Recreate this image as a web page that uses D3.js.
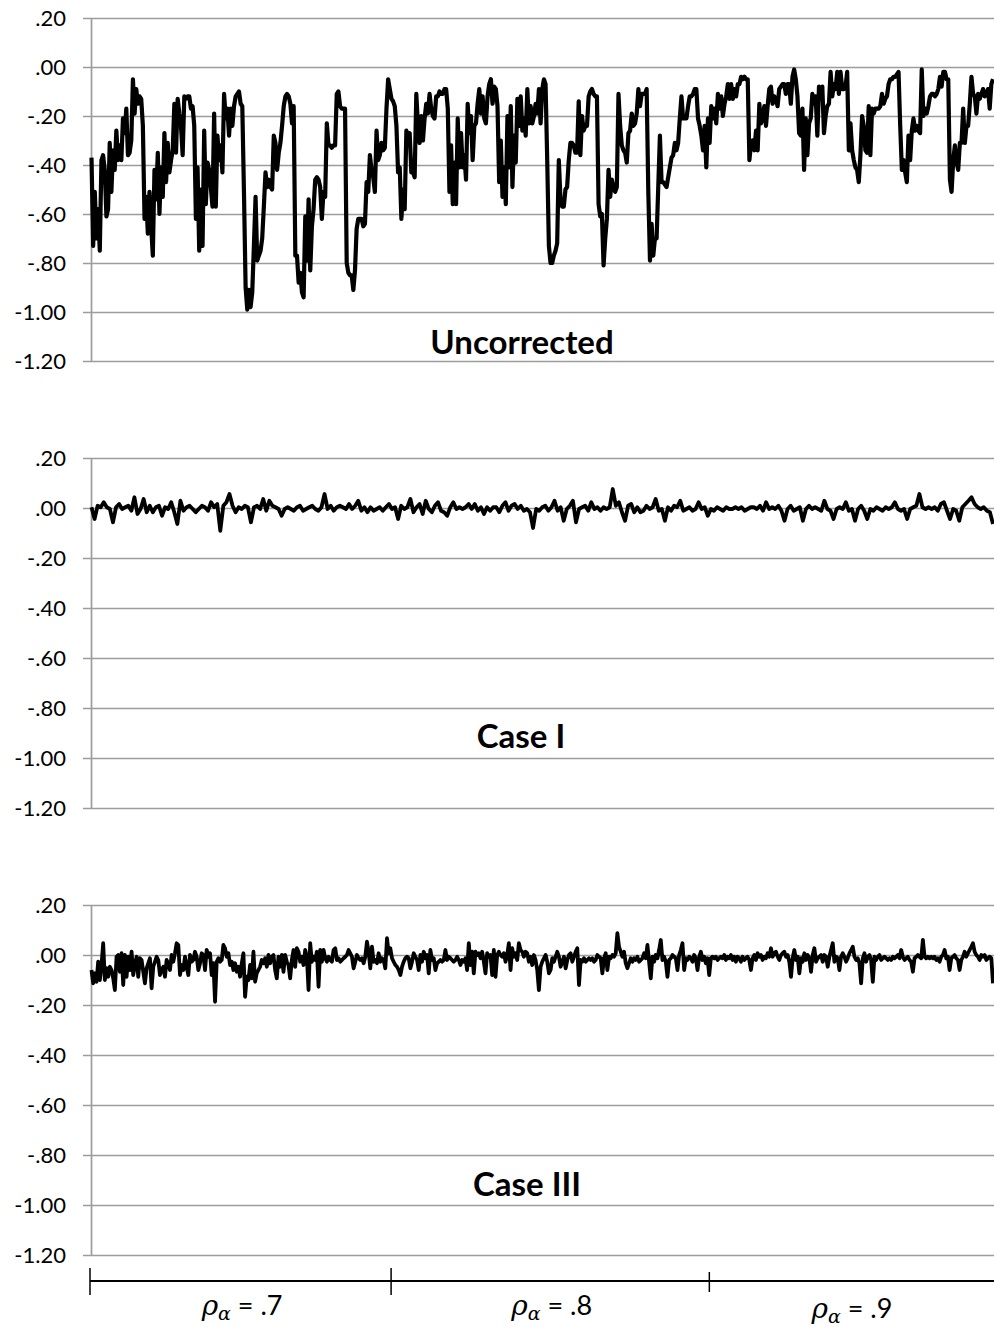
<!DOCTYPE html>
<html>
<head>
<meta charset="utf-8">
<script src="https://cdn.jsdelivr.net/npm/d3@7"></script>
<style>
    body { margin: 0; background: #fff; }
    svg { display: block; }
    .tick text { font-family: Lato, "Open Sans", sans-serif; font-size: 22px; fill: #000; }
    .panel-title { font-family: Lato, "Open Sans", sans-serif; font-size: 33px; font-weight: bold; text-anchor: middle; }
</style>
</head>
<body>
<div id="chart"></div>
<script>

var yTicks = [0.2, 0, -0.2, -0.4, -0.6, -0.8, -1.0, -1.2];

var uncorrected = [
    -0.37, -0.73, -0.51, -0.70, -0.58, -0.75, -0.38, -0.36, -0.42, -0.61,
    -0.58, -0.31, -0.51, -0.34, -0.42, -0.26, -0.38, -0.32, -0.38, -0.21,
    -0.27, -0.17, -0.36, -0.35, -0.30, -0.05, -0.19, -0.09, -0.15, -0.12,
    -0.13, -0.24, -0.62, -0.53, -0.68, -0.51, -0.65, -0.77, -0.42, -0.54,
    -0.35, -0.60, -0.41, -0.53, -0.27, -0.47, -0.31, -0.43, -0.38, -0.34,
    -0.15, -0.35, -0.13, -0.19, -0.24, -0.36, -0.12, -0.13, -0.12, -0.12,
    -0.17, -0.16, -0.24, -0.62, -0.41, -0.75, -0.50, -0.73, -0.26, -0.56,
    -0.39, -0.42, -0.49, -0.57, -0.19, -0.57, -0.28, -0.38, -0.32, -0.43,
    -0.11, -0.21, -0.17, -0.28, -0.17, -0.24, -0.16, -0.12, -0.11, -0.10,
    -0.15, -0.16, -0.51, -0.90, -0.99, -0.91, -0.98, -0.92, -0.73, -0.53,
    -0.79, -0.77, -0.75, -0.70, -0.57, -0.43, -0.49, -0.46, -0.49, -0.50,
    -0.28, -0.31, -0.42, -0.35, -0.31, -0.24, -0.16, -0.12, -0.11, -0.12,
    -0.15, -0.23, -0.16, -0.77, -0.77, -0.88, -0.84, -0.92, -0.94, -0.61,
    -0.79, -0.54, -0.83, -0.65, -0.58, -0.46,
    -0.45, -0.46, -0.49, -0.62, -0.51, -0.53, -0.23, -0.32, -0.32, -0.33,
    -0.32, -0.32, -0.11, -0.10, -0.16, -0.17, -0.17, -0.17, -0.80, -0.84,
    -0.85, -0.85, -0.91, -0.83, -0.66, -0.62, -0.62, -0.62, -0.65, -0.64,
    -0.47, -0.51, -0.36, -0.42, -0.45, -0.51, -0.26, -0.38, -0.36, -0.31,
    -0.34, -0.33, -0.17, -0.05, -0.09, -0.13, -0.14, -0.16, -0.24, -0.43,
    -0.41, -0.62, -0.50, -0.58, -0.26, -0.28, -0.27, -0.43, -0.43, -0.45,
    -0.11, -0.24, -0.31, -0.20, -0.30, -0.21, -0.15, -0.19, -0.11, -0.17,
    -0.20, -0.21, -0.12, -0.12, -0.10, -0.11, -0.11, -0.09, -0.09, -0.17,
    -0.51, -0.32, -0.56, -0.39, -0.56, -0.21, -0.41, -0.27, -0.41, -0.36,
    -0.46, -0.15, -0.27, -0.20, -0.38, -0.24, -0.23, -0.15, -0.09, -0.19,
    -0.12, -0.21, -0.23, -0.12, -0.07, -0.05, -0.15, -0.08, -0.09, -0.16,
    -0.47, -0.30, -0.53, -0.41, -0.56, -0.20, -0.41, -0.16, -0.49, -0.28,
    -0.39, -0.13, -0.24, -0.12, -0.26, -0.21, -0.28, -0.09, -0.23, -0.16,
    -0.23, -0.20, -0.15, -0.19, -0.09, -0.23,
    -0.09, -0.05, -0.07, -0.38, -0.73, -0.80, -0.80, -0.77, -0.75, -0.72,
    -0.38, -0.54, -0.57, -0.57, -0.50, -0.49, -0.38, -0.31, -0.31, -0.32,
    -0.35, -0.35, -0.14, -0.36, -0.20, -0.26, -0.24, -0.24, -0.12, -0.10,
    -0.09, -0.11, -0.12, -0.12, -0.56, -0.61, -0.60, -0.81, -0.70, -0.62,
    -0.42, -0.53, -0.46, -0.49, -0.51, -0.49, -0.11, -0.24, -0.32, -0.34,
    -0.35, -0.39, -0.27, -0.26, -0.19, -0.24, -0.23, -0.19, -0.09, -0.16,
    -0.11, -0.11, -0.11, -0.09, -0.51, -0.79, -0.64, -0.77, -0.70, -0.70,
    -0.49, -0.28, -0.47, -0.47, -0.48, -0.49, -0.45, -0.41, -0.37, -0.36,
    -0.31, -0.34, -0.31, -0.21, -0.12, -0.21, -0.21, -0.21, -0.16, -0.12,
    -0.12, -0.11, -0.09, -0.09, -0.21, -0.24, -0.28, -0.34, -0.24, -0.41,
    -0.21, -0.31, -0.16, -0.21, -0.17, -0.23, -0.11, -0.17, -0.12, -0.20,
    -0.15, -0.12, -0.07, -0.13, -0.07, -0.13, -0.09, -0.12, -0.07, -0.07,
    -0.04, -0.05, -0.04, -0.05, -0.05, -0.38, -0.31, -0.30, -0.34, -0.26,
    -0.34, -0.15, -0.23, -0.21, -0.16,
    -0.24, -0.16, -0.09, -0.08, -0.15, -0.12, -0.13, -0.16, -0.09, -0.08,
    -0.07, -0.07, -0.11, -0.07, -0.07, -0.15, -0.04, -0.01, -0.05, -0.12,
    -0.27, -0.28, -0.17, -0.42, -0.21, -0.36, -0.23, -0.21, -0.11, -0.15,
    -0.12, -0.28, -0.08, -0.09, -0.08, -0.27, -0.20, -0.16, -0.15, -0.02,
    -0.12, -0.07, -0.09, -0.02, -0.11, -0.02, -0.09, -0.09, -0.08, -0.02,
    -0.34, -0.23, -0.34, -0.38, -0.41, -0.42, -0.47, -0.36, -0.20, -0.24,
    -0.34, -0.35, -0.16, -0.36, -0.17, -0.19, -0.17, -0.17, -0.17, -0.16,
    -0.11, -0.15, -0.13, -0.12, -0.07, -0.05, -0.05, -0.04, -0.04, -0.03,
    -0.02, -0.24, -0.42, -0.38, -0.43, -0.47, -0.28, -0.38, -0.26, -0.21,
    -0.26, -0.24, -0.26, -0.27, -0.01, -0.20, -0.17, -0.19, -0.16, -0.12,
    -0.11, -0.11, -0.12, -0.11, -0.09, -0.04, -0.08, -0.02, -0.02, -0.05,
    -0.05, -0.46, -0.51, -0.38, -0.32, -0.39, -0.42, -0.31, -0.31, -0.17,
    -0.31, -0.24, -0.24, -0.15, -0.04, -0.11, -0.12, -0.19, -0.11, -0.13,
    -0.11, -0.09, -0.12, -0.11, -0.09, -0.17, -0.07, -0.05
];

var caseI = [
    0.003, -0.044, 0.009, 0.003, 0.023, 0.003, -0.004, -0.057, 0.003, 0.016,
    -0.004, 0.003, 0.009, -0.011, 0.043, -0.024, -0.004, 0.036, -0.017, 0.009,
    -0.017, 0.003, 0.009, -0.031, 0.003, -0.004, 0.023, -0.017, -0.064, 0.029,
    -0.011, 0.003, 0.009, -0.004, -0.017, -0.004, 0.009, 0.003, -0.011, 0.023,
    0.003, 0.016, -0.091, 0.009, 0.023, 0.056, 0.009, -0.017, 0.003, -0.004,
    0.009, 0.003, -0.057, 0.003, 0.009, -0.004, 0.036, -0.011, 0.029, 0.009,
    0.003, -0.004, -0.031, -0.004, 0.003, -0.004, -0.011, 0.003, 0.009, -0.011,
    -0.004, 0.003, 0.009, -0.004, -0.011, 0.003, 0.056, -0.004, 0.009, -0.011,
    0.003, 0.009, 0.003, -0.004, 0.016, -0.004, 0.009, 0.029, -0.011, 0.003,
    -0.017, 0.003, -0.011, -0.004, 0.003, -0.011, 0.003, 0.016, -0.004, 0.003,
    -0.044, 0.009, -0.004, 0.003, 0.036, -0.017, 0.003, 0.016, -0.024, 0.029,
    -0.004, -0.017, 0.009, 0.023, -0.011, -0.017, -0.031, 0.003, 0.023, -0.004,
    0.003, -0.004, 0.003, 0.016, -0.004, 0.016, -0.011, 0.003, -0.024, 0.003,
    -0.011, 0.003,
    0.003, -0.017, 0.009, 0.023, -0.011, 0.009, 0.016, -0.004, 0.009, -0.011,
    -0.004, -0.017, -0.080, -0.004, -0.011, 0.003, 0.009, -0.011, 0.003, 0.029,
    -0.011, 0.003, -0.051, -0.004, 0.009, 0.029, -0.057, -0.004, 0.003, 0.009,
    -0.011, 0.023, -0.004, 0.003, -0.011, 0.003, -0.004, 0.003, 0.076, 0.009,
    0.023, -0.017, -0.051, 0.009, 0.016, -0.017, 0.003, -0.017, -0.011, 0.009,
    -0.004, 0.003, 0.036, -0.011, -0.004, -0.051, 0.003, -0.011, 0.009, 0.003,
    0.029, -0.011, -0.004, 0.003, -0.011, -0.004, 0.023, -0.004, 0.003, -0.031,
    -0.004, -0.011, 0.003, -0.004, -0.011, 0.003, -0.004, -0.004, 0.003, -0.004,
    0.003, -0.011, -0.004, 0.003, 0.003, -0.004, 0.009, -0.011, 0.023, -0.004,
    0.003, -0.004, 0.009, -0.011, -0.051, -0.004, 0.009, -0.011, -0.004, 0.003,
    -0.051, -0.004, 0.009, -0.004, 0.003, -0.004, -0.011, 0.029, -0.004, -0.011,
    -0.044, -0.004, 0.003, -0.004, 0.023, -0.011, -0.004, -0.051, -0.004, 0.009,
    -0.011, -0.044, -0.004, -0.011, 0.003, -0.004, -0.011, 0.003, -0.004, 0.003,
    0.023, -0.004, -0.011, -0.004, -0.044, -0.004, 0.003, 0.009, 0.056, 0.003,
    -0.004, 0.003, -0.004, 0.003, -0.011, 0.016, 0.023, -0.011, -0.044, -0.004,
    -0.011, -0.051, 0.003, 0.016, 0.029, 0.043, 0.016, 0.003, -0.004, 0.003,
    -0.011, -0.017, -0.064
];

var caseIII = [
    -0.060, -0.113, -0.073, -0.107, -0.027, -0.100, -0.040, 0.047, -0.100, -0.053,
    -0.087, -0.047, -0.060, -0.093, -0.140, -0.007, 0.000, -0.067, 0.007, -0.120,
    0.000, -0.087, -0.007, -0.060, 0.013, -0.080, -0.040, -0.007, -0.087, -0.013,
    -0.020, -0.067, -0.113, -0.053, -0.033, -0.013, -0.133, -0.047, -0.027, -0.007,
    -0.020, -0.080, -0.060, -0.047, -0.087, -0.020, -0.033, -0.060, 0.000, -0.027,
    0.007, 0.047, 0.040, -0.080, -0.040, -0.060, -0.007, -0.047, -0.080, 0.000,
    -0.027, -0.020, 0.013, -0.007, -0.060, -0.033, 0.007, 0.000, -0.060, 0.020,
    -0.007, 0.007, -0.080, -0.033, -0.187, -0.027, -0.013, -0.027, -0.020, 0.040,
    0.027, -0.007, 0.007, -0.040, -0.027, -0.060, -0.033, -0.067, -0.047, -0.087,
    -0.033, 0.007, -0.167, -0.087, -0.100, -0.040, -0.093, 0.013, -0.107, -0.073,
    -0.060, -0.047, -0.020, -0.033, -0.013, -0.047, 0.000, -0.033, -0.007, 0.000,
    -0.060, -0.093, -0.007, -0.047, 0.000, -0.067, 0.000, -0.027, -0.040, -0.093,
    -0.020, 0.020, -0.047, 0.027, 0.013, -0.027, -0.007, -0.040, 0.020, -0.007,
    -0.140, 0.047, -0.027, -0.007, -0.020, 0.013, -0.127, 0.020, -0.027, 0.020,
    -0.013, -0.027, -0.007, -0.020, -0.027, 0.020, 0.027, -0.020, -0.013, -0.027,
    -0.020, -0.013, -0.007, 0.000, 0.020, 0.007, -0.007, -0.053, -0.027, 0.000,
    -0.013, -0.020, -0.013, -0.033, -0.007, 0.053, 0.013, -0.053, 0.033, -0.027,
    -0.020, -0.033, 0.007, -0.027, -0.013, -0.020, -0.053, 0.067, 0.007, 0.027,
    -0.013, -0.027, -0.040, -0.047, -0.060, -0.080, -0.047, -0.027, -0.013, -0.007,
    -0.013, -0.053, -0.027, 0.007, -0.007, -0.020, -0.060, 0.000, -0.027, 0.013,
    -0.013, 0.000, -0.073, 0.020, -0.020, -0.013, -0.060, -0.033, -0.027, -0.020,
    -0.027, -0.020, 0.020, -0.020, -0.007, -0.013, -0.020, -0.027, -0.020, -0.007,
    -0.020, -0.040, -0.020, -0.027, -0.013, -0.060, 0.047, -0.040, 0.013, -0.073,
    0.013, 0.000, 0.007, -0.013, 0.013, -0.027, -0.073, 0.007, -0.007, 0.000,
    -0.080, 0.020, -0.087, 0.000, 0.013, 0.000,
    -0.007, 0.007, -0.027, 0.000, 0.047, -0.060, 0.027, -0.007, 0.007, -0.020,
    0.047, 0.020, 0.013, -0.007, 0.013, 0.007, -0.027, -0.007, -0.040, 0.000,
    -0.020, -0.060,
    -0.140, -0.047, -0.027, -0.013, 0.000, -0.027, -0.073, -0.060, -0.013, -0.027,
    -0.007, 0.013, -0.007, -0.047, -0.027, -0.007, -0.053, -0.020, 0.000, 0.007,
    -0.027, -0.007, 0.013, 0.027, -0.120, -0.020, -0.027, -0.013, -0.027, -0.020,
    -0.013, -0.020, -0.013, -0.027, -0.020, 0.000, -0.007, -0.013, -0.073, -0.013,
    0.007, -0.060, -0.007, -0.013, 0.000, -0.007, 0.007, 0.087, 0.033, 0.013,
    -0.007, 0.013, -0.033, -0.053, -0.033, -0.013, -0.027, -0.013, -0.020, -0.007,
    -0.027, -0.020, -0.013, 0.007, -0.013, 0.040, -0.027, -0.093, -0.007, -0.027,
    0.000, -0.013, 0.020, 0.060, -0.020, -0.007, -0.027, -0.087, -0.020, -0.013,
    0.000, -0.007, -0.013, -0.060, 0.000, 0.020, 0.047, -0.060, -0.013, -0.020,
    -0.007, -0.013, -0.027, 0.000, -0.013, -0.060, -0.007, 0.013, -0.020, -0.007,
    -0.033, -0.013, -0.080, -0.013, -0.007, -0.013, -0.007, -0.020, -0.013, -0.007,
    -0.013, 0.000, -0.020, -0.007, -0.013, 0.000, -0.020, -0.007, -0.027, -0.007,
    -0.013, -0.027, -0.007, -0.020, -0.013, -0.007, -0.020, -0.060, -0.013, 0.000,
    -0.020, 0.007, -0.007, 0.000, -0.020, -0.007, -0.013, 0.007, -0.007, 0.027,
    -0.007, 0.007, 0.013, -0.007, -0.020, 0.000, 0.007, 0.013, -0.007, 0.000,
    -0.027, -0.087, -0.013, 0.020, -0.020, -0.007, -0.073, -0.013, -0.027, 0.007,
    -0.020, 0.000, -0.013, -0.067, 0.000, 0.027, -0.027, -0.013, -0.007, 0.000,
    -0.027, 0.000, -0.007, -0.047, -0.007, 0.020, 0.047, -0.027, -0.007, -0.013,
    -0.060, -0.007, 0.007, -0.007, -0.027, -0.013, 0.007, 0.020, 0.033, -0.007,
    -0.020, -0.013, -0.033, -0.113, -0.013, 0.007, -0.027, -0.007, 0.000, -0.020,
    -0.107, -0.007, -0.020, -0.007, 0.000, -0.020, -0.013, -0.007, -0.013, -0.020,
    -0.013, -0.020, -0.007, -0.013, -0.007, 0.000, -0.013, 0.020, -0.007, -0.020,
    -0.013, -0.007, -0.020, -0.027, -0.067, -0.013, -0.007, 0.000, -0.007, -0.013,
    0.060, -0.007, -0.013, -0.007, -0.013, -0.007, -0.013, -0.007, -0.020, -0.013,
    -0.027, -0.007, 0.000, 0.020, -0.013, -0.007, -0.060, -0.013, -0.007, 0.000,
    -0.013, -0.020, -0.060, -0.020, -0.007, 0.013, -0.007, 0.007, 0.020, 0.033,
    0.047, 0.013, 0.000, -0.007, -0.020, 0.000, -0.007, 0.000, -0.020, -0.013,
    -0.007, -0.013, -0.113
];

// rho blocks along the run (share of the x range where each block starts / ends)
var rhoLabels = [".7", ".8", ".9"];
var rhoBreaks = [0, 0.334, 0.687, 1];

function initCorrectionChart() {

    var full_width = 994,
        full_height = 1329;

    var plotLeft = 91.5,
        plotRight = 993,
        tickLeft = 83;

    var panels = [
        { title: "Uncorrected", data: uncorrected, top: 18,  bottom: 361,  titleX: 522, titleV: -1.172, lw: 4.2 },
        { title: "Case I",      data: caseI,       top: 458, bottom: 808,  titleX: 521, titleV: -0.96,  lw: 3.8 },
        { title: "Case III",    data: caseIII,     top: 905, bottom: 1255, titleX: 527, titleV: -0.964, lw: 3.8 }
    ];

    var gridColor = "#9c9c9c";

    var svg = d3.select("#chart")
        .append("svg")
        .attr("width", full_width)
        .attr("height", full_height)
        .style("background", "#fff");

    var x = d3.scaleLinear()
        .domain([0, 1])
        .range([plotLeft, plotRight]);

    // ".20", ".00", "-.20", "-1.20" with a plain hyphen
    var fmt = function(d) {
        return d3.format(".2f")(d).replace("\u2212", "-").replace(/^(-?)0\./, "$1.");
    };

    panels.forEach(function(p) {

        var y = d3.scaleLinear()
            .domain([-1.2, 0.2])
            .range([p.bottom, p.top]);

        // gridlines + tick labels
        var yAxis = svg.append("g")
            .attr("transform", "translate(" + tickLeft + ",0)")
            .call(d3.axisLeft(y)
                .tickValues(yTicks)
                .tickSize(-(plotRight + 1 - tickLeft))
                .tickPadding(17)
                .tickFormat(fmt));
        yAxis.select(".domain").remove();
        yAxis.selectAll(".tick line")
            .attr("stroke", gridColor)
            .attr("stroke-width", 1.7);

        // vertical axis line
        svg.append("line")
            .attr("x1", plotLeft).attr("x2", plotLeft)
            .attr("y1", y(0.2)).attr("y2", y(-1.2))
            .attr("stroke", gridColor)
            .attr("stroke-width", 1.7);

        var n = p.data.length;
        var line = d3.line()
            .x(function(d, i) { return x(i / (n - 1)); })
            .y(function(d) { return y(d); });

        svg.append("path")
            .datum(p.data)
            .attr("d", line)
            .attr("fill", "none")
            .attr("stroke", "#000")
            .attr("stroke-width", p.lw)
            .attr("stroke-linejoin", "round");

        svg.append("text")
            .attr("class", "panel-title")
            .attr("x", p.titleX)
            .attr("y", y(p.titleV))
            .text(p.title);
    });

    // rho bracket under the last panel
    var bracketY = 1281;
    svg.append("line")
        .attr("x1", x(0) - 1.5).attr("x2", full_width)
        .attr("y1", bracketY).attr("y2", bracketY)
        .attr("stroke", "#000")
        .attr("stroke-width", 2);

    svg.selectAll(".rho-tick")
        .data(rhoBreaks.slice(0, 3))
        .enter()
        .append("line")
        .attr("class", "rho-tick")
        .attr("x1", function(d) { return x(d) - 1.5; })
        .attr("x2", function(d) { return x(d) - 1.5; })
        .attr("y1", function(d, i) { return i == 2 ? bracketY - 9 : bracketY - 13; })
        .attr("y2", function(d, i) { return i == 2 ? bracketY + 11 : bracketY + 14; })
        .attr("stroke", "#000")
        .attr("stroke-width", 1.5);

    var labelDy = [0, 0, 3];
    var rho = svg.selectAll(".rho-label")
        .data(rhoLabels)
        .enter()
        .append("text")
        .attr("class", "rho-label")
        .attr("x", function(d, i) { return x((rhoBreaks[i] + rhoBreaks[i + 1]) / 2); })
        .attr("y", function(d, i) { return 1315 + labelDy[i]; })
        .attr("text-anchor", "middle");

    rho.append("tspan")
        .style("font-family", "'DejaVu Serif', 'Liberation Serif', serif")
        .style("font-style", "italic")
        .style("font-size", "28px")
        .text("ρ");
    rho.append("tspan")
        .attr("dy", 5)
        .style("font-family", "'DejaVu Serif', 'Liberation Serif', serif")
        .style("font-style", "italic")
        .style("font-size", "19px")
        .text("α");
    rho.append("tspan")
        .attr("dy", -5)
        .style("font-family", "Lato, 'Open Sans', sans-serif")
        .style("font-size", "27px")
        .text(function(d) { return " = " + d; });
}

initCorrectionChart();
</script>
</body>
</html>
